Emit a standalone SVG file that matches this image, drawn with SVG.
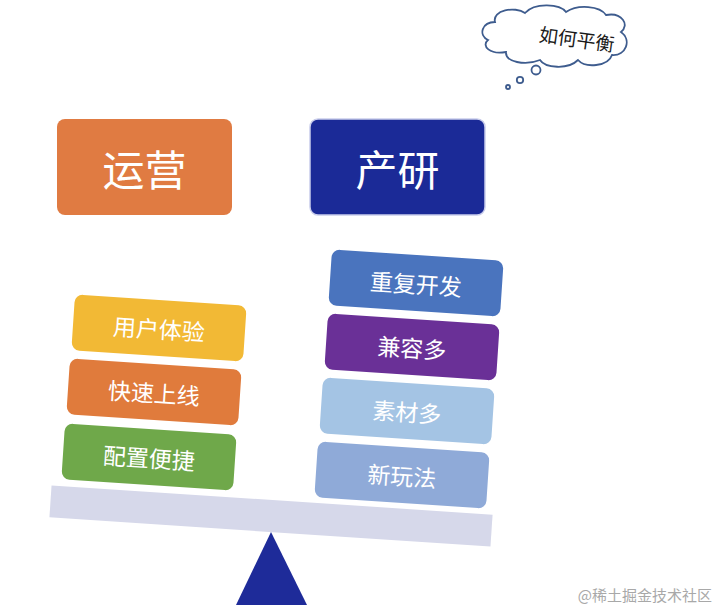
<svg xmlns="http://www.w3.org/2000/svg" width="720" height="609" viewBox="0 0 720 609">
<defs>
<style>
.t{font-family:"Noto Sans CJK SC","Noto Sans",sans-serif;fill:#ffffff;text-anchor:middle;dominant-baseline:central}
.big{font-size:42px}
.mid{font-size:23px}
.cloud{fill:#ffffff;stroke:#3E5C8E;stroke-width:1.8}
</style>
</defs>
<rect width="720" height="609" fill="#ffffff"/>
<g id="thought">
<path class="cloud" d="M488,40 C478,35 482,22 495,22 C492,10 515,6 525,13 C535,2 560,4 566,12 C578,4 600,6 606,15 C622,12 630,25 621,32 C632,40 626,56 612,55 C608,67 585,68 578,60 C568,70 545,68 540,60 C525,66 505,62 506,52 C490,55 481,46 488,40 Z"/>
<circle class="cloud" cx="536" cy="70" r="4.5"/>
<circle class="cloud" cx="520" cy="80" r="3.2"/>
<circle class="cloud" cx="508" cy="87" r="2"/>
<text x="577" y="38" transform="rotate(8 577 38)" style="font-family:'Noto Sans CJK SC',sans-serif;font-size:19px;fill:#1a1a1a;text-anchor:middle;dominant-baseline:central">如何平衡</text>
</g>
<g id="yunying">
<rect x="57" y="119" width="175" height="96" rx="8" fill="#E07B42"/>
<text class="t big" x="144.5" y="167">运营</text>
</g>
<g id="chanyan">
<rect x="310" y="119" width="175" height="96" rx="8" fill="#1B2A97" stroke="#C9CDEB" stroke-width="1.5"/>
<text class="t big" x="397.5" y="167">产研</text>
</g>
<g id="beam">
<rect x="50" y="500" width="442" height="32" fill="#D6D8EA" transform="rotate(3.8 271 516)"/>
</g>
<g id="fulcrum">
<polygon points="271,532 307,605 236,605" fill="#1E2B99"/>
</g>
<g id="yonghutiyan" transform="rotate(3.8 159 328)">
<rect x="73" y="300" width="172" height="56" rx="8" fill="#F2B935"/>
<text class="t mid" x="159" y="328">用户体验</text>
</g>
<g id="kuaisushangxian" transform="rotate(3.8 154 392)">
<rect x="68" y="364" width="172" height="56" rx="8" fill="#E07B3C"/>
<text class="t mid" x="154" y="392">快速上线</text>
</g>
<g id="peizhibianjie" transform="rotate(3.8 149 457)">
<rect x="63" y="429" width="172" height="56" rx="8" fill="#6FA84A"/>
<text class="t mid" x="149" y="457">配置便捷</text>
</g>
<g id="chongfukaifa" transform="rotate(3.8 416 283)">
<rect x="330" y="255" width="172" height="56" rx="8" fill="#4A74BE"/>
<text class="t mid" x="416" y="283">重复开发</text>
</g>
<g id="jianrongduo" transform="rotate(3.8 412 347)">
<rect x="326" y="319" width="172" height="56" rx="8" fill="#6A3097"/>
<text class="t mid" x="412" y="347">兼容多</text>
</g>
<g id="sucaiduo" transform="rotate(3.8 407 411)">
<rect x="321" y="383" width="172" height="56" rx="8" fill="#A4C4E4"/>
<text class="t mid" x="407" y="411">素材多</text>
</g>
<g id="xinwanfa" transform="rotate(3.8 402 475)">
<rect x="316" y="447" width="172" height="56" rx="8" fill="#8FAAD8"/>
<text class="t mid" x="402" y="475">新玩法</text>
</g>
<g id="connectors"></g>
<text x="712" y="594" style="font-family:'Noto Sans CJK SC',sans-serif;font-size:15px;fill:#A8A8A8;text-anchor:end;dominant-baseline:central">@稀土掘金技术社区</text>
</svg>
